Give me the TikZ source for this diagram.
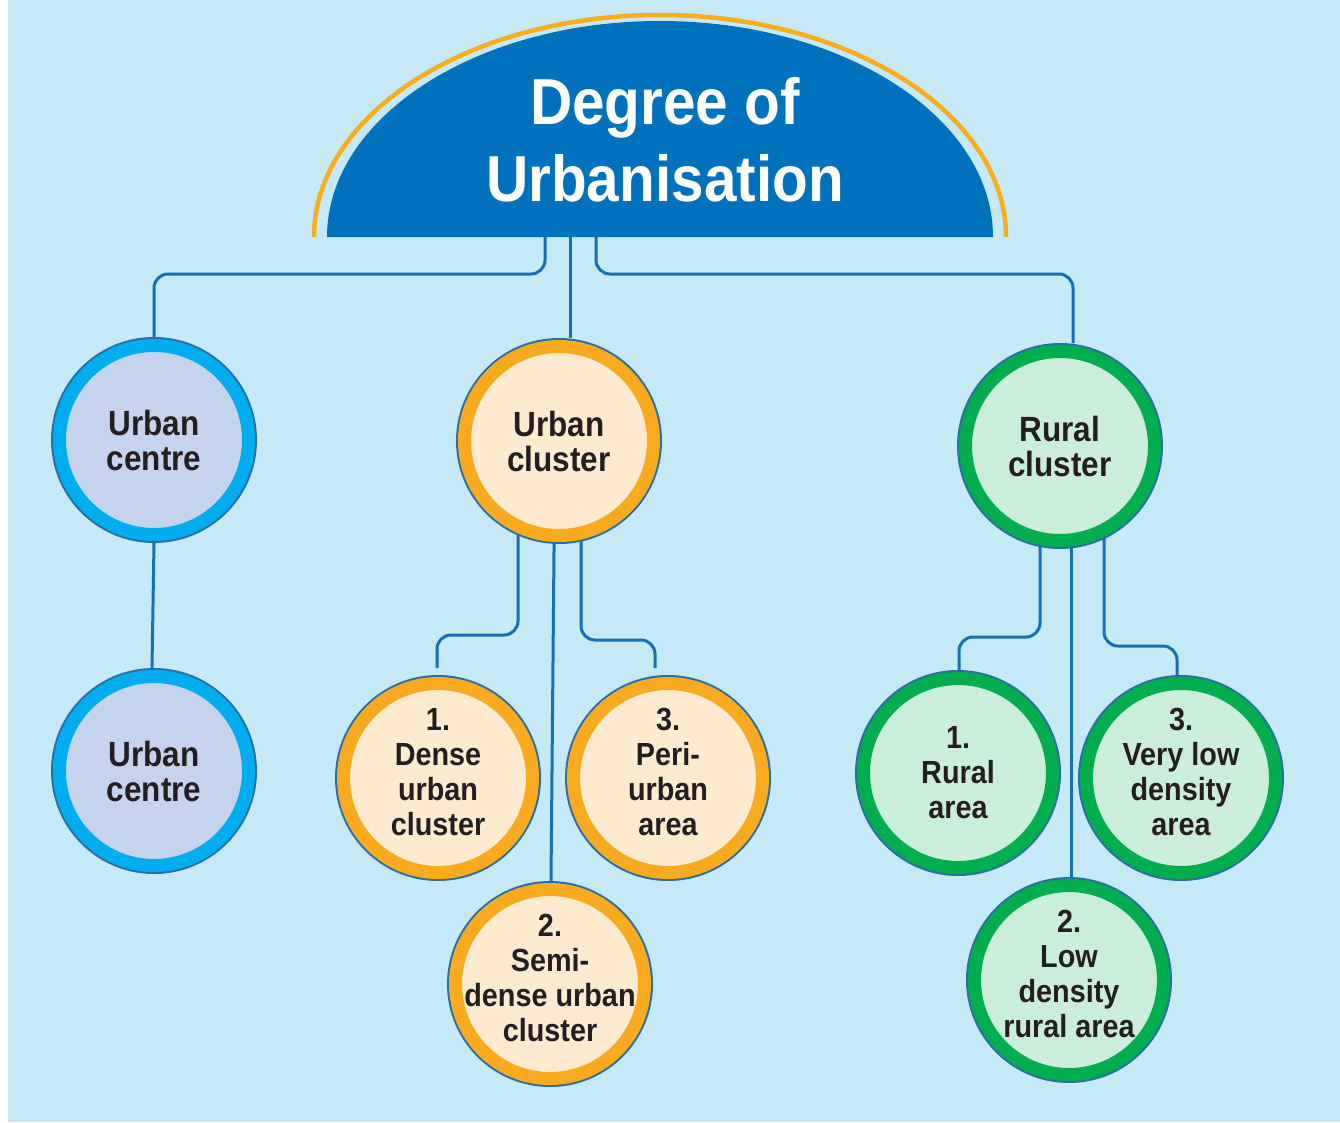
\documentclass[tikz,border=0pt]{standalone}
\usepackage{fontspec}
\setmainfont{Liberation Sans}[FakeStretch=0.9]
\usetikzlibrary{positioning}
\usetikzlibrary{backgrounds}
\definecolor{skyback}{HTML}{C6E9F8}
\definecolor{domeblue}{HTML}{0071BC}
\definecolor{domegold}{HTML}{FBAD1A}
\definecolor{linkblue}{HTML}{1570B6}
\definecolor{rimblue}{HTML}{2A6EA6}
\definecolor{cyanring}{HTML}{00AEEF}
\definecolor{lilac}{HTML}{C6D3EC}
\definecolor{goldring}{HTML}{F9AA1E}
\definecolor{peach}{HTML}{FEEACE}
\definecolor{greenring}{HTML}{00AE4E}
\definecolor{mint}{HTML}{CBEEDB}
\definecolor{ink}{HTML}{231F20}
\def\bigtext{\bfseries\fontsize{35}{35}\selectfont}
\def\dip{\rule[-13pt]{0pt}{13pt}}

\begin{document}
\begin{tikzpicture}[x=1pt,y=-1pt,
	bubble/.style={circle,minimum size=189pt,inner sep=-40pt,outer sep=8.5pt,align=center,text=ink,font=\bfseries\fontsize{32}{35}\selectfont,preaction={draw=rimblue,line width=17pt},line width=13pt},
	centrebub/.style={bubble,draw=cyanring,fill=lilac},
	clusterbub/.style={bubble,draw=goldring,fill=peach},
	ruralbub/.style={bubble,draw=greenring,fill=mint},
	link/.style={draw=linkblue,line width=3pt,rounded corners=14pt}]
	\useasboundingbox (0,0) rectangle (1340,1122);

	\draw [domegold,line width=4.5pt] (314,237) arc [start angle=180,end angle=0,x radius=346pt,y radius=222pt];
	\fill [domeblue] (327,237) arc [start angle=180,end angle=0,x radius=333pt,y radius=216pt] -- cycle;
	\node [align=center,text=white,font=\bfseries\fontsize{65}{77}\selectfont] at (665,140) (title) {Degree of\\Urbanisation};
	\coordinate (root) at (570,237);

	\node [centrebub,font=\bigtext] at (154,440) (uc1) {Urban\\centre};
	\node [centrebub,font=\bigtext,below=125pt of uc1] (uc2) {Urban\\centre};
	\node [clusterbub,font=\bigtext] at (559,441) (ucl) {Urban\\cluster};
	\node [ruralbub,font=\bigtext] at (1060,446) (rcl) {Rural\\cluster};

	\node [clusterbub] at (438,778) (dense) {1.\\Dense\\urban\\cluster\dip};
	\node [clusterbub] at (668,778) (peri) {3.\\Peri-\\urban\\area\dip};
	\node [clusterbub] at (550,984) (sdense) {2.\\Semi-\\dense urban\\cluster\dip};
	\node [ruralbub] at (958,773) (rarea) {1.\\Rural\\area};
	\node [ruralbub] at (1181,778) (vlow) {3.\\Very low\\density\\area\dip};
	\node [ruralbub] at (1069,980) (lowd) {2.\\Low\\density\\rural area\dip};

	\begin{scope}[on background layer]
	\fill [skyback] (8,0) rectangle (1340,1122);
	\draw [link] ([xshift=-25pt]root) -- ++(0,37) -| (uc1.north);
	\draw [link] (root) -- (root |- ucl.north);
	\draw [link] ([xshift=26pt]root) -- ++(0,37) -| ([xshift=13pt]rcl.north);
	\draw [link] (uc1.south) -- ([xshift=-2pt]uc2.north);
	\draw [link,shorten >=7pt] ([xshift=-41pt]ucl.center) -- ++(0,194) -| ([xshift=-1pt]dense.north);
	\draw [link] ([xshift=-4pt]ucl.center) -- ([xshift=1pt]sdense.north);
	\draw [link,shorten >=7pt] ([xshift=22pt]ucl.center) -- ++(0,199) -| ([xshift=-13pt]peri.north);
	\draw [link] ([xshift=-20pt]rcl.center) -- ++(0,191) -| ([xshift=1pt]rarea.north);
	\draw [link] ([xshift=11pt]rcl.center) -- ([xshift=2pt]lowd.north);
	\draw [link] ([xshift=44pt]rcl.center) -- ++(0,200) -| ([xshift=-4pt]vlow.north);
	\end{scope}
\end{tikzpicture}
\end{document}
